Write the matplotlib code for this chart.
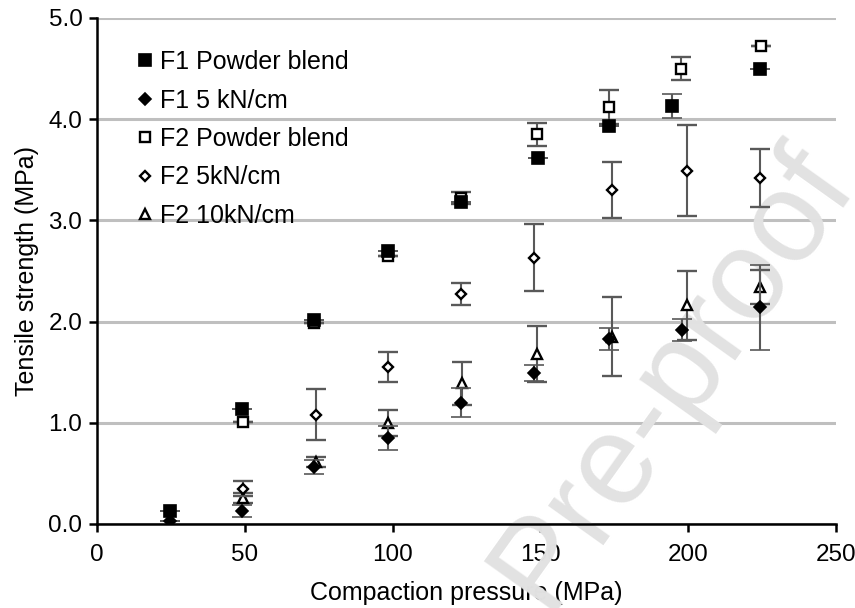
import matplotlib
matplotlib.use("Agg")
import matplotlib.pyplot as plt

plt.rcParams['font.family'] = ['Liberation Sans', 'DejaVu Sans']

# ---- data ----
f1_pb_x = [24.7, 49.1, 73.4, 98.4, 123.1, 149.2, 173.2, 194.5, 224.3]
f1_pb_y = [0.13, 1.14, 2.02, 2.70, 3.18, 3.62, 3.93, 4.13, 4.50]
f1_pb_e = [0.0, 0.0, 0.0, 0.0, 0.0, 0.0, 0.0, 0.12, 0.0]

f1_5_x = [24.7, 49.1, 73.4, 98.4, 123.1, 147.8, 173.2, 197.9, 224.3]
f1_5_y = [0.03, 0.13, 0.56, 0.85, 1.20, 1.49, 1.83, 1.92, 2.14]
f1_5_e = [0.0, 0.06, 0.07, 0.12, 0.14, 0.08, 0.11, 0.11, 0.42]

f2_pb_x = [49.4, 73.4, 98.4, 123.1, 148.8, 173.2, 197.6, 224.6]
f2_pb_y = [1.01, 1.99, 2.65, 3.22, 3.85, 4.12, 4.50, 4.72]
f2_pb_e = [0.0, 0.0, 0.0, 0.06, 0.11, 0.17, 0.11, 0.0]

f2_5_x = [49.4, 74.0, 98.4, 123.1, 147.8, 174.2, 199.6, 224.3]
f2_5_y = [0.35, 1.08, 1.55, 2.27, 2.63, 3.30, 3.49, 3.42]
f2_5_e = [0.07, 0.25, 0.15, 0.11, 0.33, 0.28, 0.45, 0.29]

f2_10_x = [49.4, 74.0, 98.4, 123.6, 148.8, 174.2, 199.6, 224.3]
f2_10_y = [0.26, 0.61, 1.00, 1.39, 1.68, 1.85, 2.16, 2.34]
f2_10_e = [0.05, 0.05, 0.13, 0.21, 0.28, 0.39, 0.34, 0.17]

labels = ["F1 Powder blend", "F1 5 kN/cm", "F2 Powder blend", "F2 5kN/cm", "F2 10kN/cm"]
x_ticks = [0, 50, 100, 150, 200, 250]
y_ticks = [0.0, 1.0, 2.0, 3.0, 4.0, 5.0]
y_ticklabels = ["0.0", "1.0", "2.0", "3.0", "4.0", "5.0"]

# ---- figure ----
fig = plt.figure(figsize=(8.55, 6.08), dpi=100)
ax = fig.add_axes([97/855, 1-524/608, (836-97)/855, (524-18)/608])

ecol = '#595959'
common = dict(ecolor=ecol, elinewidth=1.5, capsize=7.5, capthick=1.5, linestyle='none')

series = [
    (f1_pb_x, f1_pb_y, f1_pb_e, dict(marker='s', markersize=8, mfc='black', mec='black', mew=1.2), 8),
    (f1_5_x, f1_5_y, f1_5_e, dict(marker='D', markersize=6, mfc='black', mec='black', mew=1.2), 7),
    (f2_pb_x, f2_pb_y, f2_pb_e, dict(marker='s', markersize=7.5, mfc='white', mec='black', mew=1.7), 5),
    (f2_5_x, f2_5_y, f2_5_e, dict(marker='D', markersize=5.5, mfc='white', mec='black', mew=1.7), 4),
    (f2_10_x, f2_10_y, f2_10_e, dict(marker='^', markersize=7.5, mfc='white', mec='black', mew=1.7), 3),
]
handles = []
for xs, ys, es, st, z in series:
    h = ax.errorbar(xs, ys, yerr=es, zorder=z, **common, **st)
    handles.append(h[0])

ax.set_xlim(0, 250)
ax.set_ylim(0, 5.0)
ax.set_xticks(x_ticks)
ax.set_yticks(y_ticks)
ax.set_yticklabels(y_ticklabels)

for s in ['top', 'right']:
    ax.spines[s].set_visible(False)
for s in ['left', 'bottom']:
    ax.spines[s].set_linewidth(1.8)
    ax.spines[s].set_color('black')

ax.yaxis.grid(True, color='#BFBFBF', linewidth=2.2)
ax.set_axisbelow(True)
ax.tick_params(axis='both', direction='out', length=5.5, width=1.8, colors='black',
               labelsize=17.5)
ax.tick_params(axis='x', pad=9)
ax.tick_params(axis='y', pad=5)

ax.set_xlabel("Compaction pressure (MPa)", fontsize=18, labelpad=11)
ax.set_ylabel("Tensile strength (MPa)", fontsize=18, labelpad=6.5)

leg = ax.legend(handles, labels, loc='upper left',
                bbox_to_anchor=(135/855, 1-50/608), bbox_transform=fig.transFigure,
                frameon=False, fontsize=18, handlelength=0.8, handletextpad=0.2,
                labelspacing=0.58, borderpad=0, borderaxespad=0, numpoints=1)
leg.set_zorder(10)

wm = ax.text(673/855, 1-377/608, "Pre-proof", fontsize=92, color='#E2E2E2',
             rotation=54.5, ha='center', va='center', rotation_mode='anchor',
             transform=fig.transFigure, clip_on=False, zorder=1)

fig.savefig("out.png", dpi=100)
